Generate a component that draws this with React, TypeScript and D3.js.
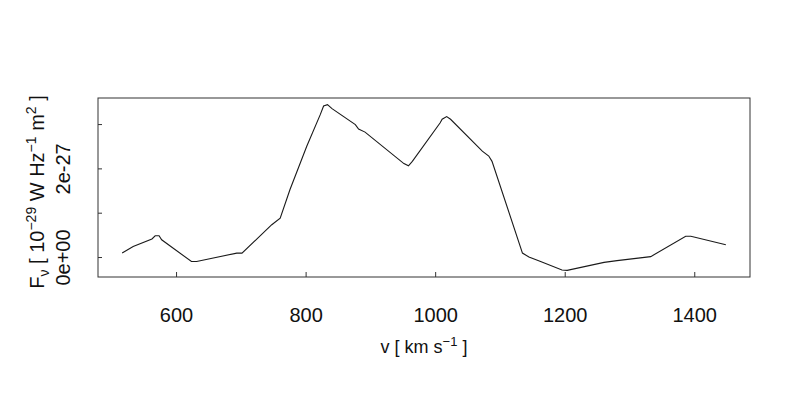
import * as d3 from "d3";

// velocity (km/s) and flux (units of 1e-27)
const velocity = [
  516, 533, 562, 567, 573, 577, 623, 631, 693, 701, 747, 760, 775, 801, 822,
  827, 833, 840, 876, 881, 891, 951, 958, 964, 1007, 1010, 1017, 1023, 1072,
  1082, 1087, 1134, 1144, 1162, 1195, 1203, 1260, 1280, 1332, 1386, 1394, 1448,
];
const flux = [
  0.1, 0.25, 0.42, 0.49, 0.49, 0.4, -0.09, -0.09, 0.1, 0.1, 0.74, 0.89, 1.53,
  2.51, 3.23, 3.42, 3.45, 3.36, 3.0, 2.9, 2.83, 2.12, 2.07, 2.17, 3.04, 3.12,
  3.18, 3.12, 2.4, 2.29, 2.17, 0.1, 0.01, -0.09, -0.28, -0.29, -0.11, -0.07,
  0.02, 0.48, 0.48, 0.29,
];
const xTicks = [600, 800, 1000, 1200, 1400];
const yTicks = [0, 1, 2, 3];
const yTickLabels: Record<number, string> = { 0: "0e+00", 2: "2e-27" };

const W = 800;
const H = 400;
const plot = { left: 98, right: 750, top: 98, bottom: 277 };
const font = "'Liberation Sans', Arial, Helvetica, sans-serif";

// R-style 4% padding around the data range
function padded(vals: number[]): [number, number] {
  const [a, b] = d3.extent(vals) as [number, number];
  const r = b - a;
  return [a - 0.04 * r, b + 0.04 * r];
}

export default function App() {
  const x = d3.scaleLinear().domain(padded(velocity)).range([plot.left, plot.right]);
  const y = d3.scaleLinear().domain(padded(flux)).range([plot.bottom, plot.top]);

  const pts: [number, number][] = velocity.map((v, i) => [v, flux[i]]);
  const line = d3
    .line<[number, number]>()
    .x((d) => x(d[0]))
    .y((d) => y(d[1]));

  const midX = (plot.left + plot.right) / 2;

  return (
    <svg
      width={W}
      height={H}
      style={{ position: "absolute", left: 0, top: 0, background: "#fff" }}
      fontFamily={font}
    >
      <rect x={0} y={0} width={W} height={H} fill="#fff" />
      <path d={line(pts) ?? ""} fill="none" stroke="#1a1a1a" strokeWidth={1.1} />
      <rect
        x={plot.left}
        y={plot.top}
        width={plot.right - plot.left}
        height={plot.bottom - plot.top}
        fill="none"
        stroke="#333"
        strokeWidth={1}
      />

      {/* x axis: inward ticks */}
      {xTicks.map((t) => (
        <g key={t}>
          <line x1={x(t)} x2={x(t)} y1={plot.bottom} y2={plot.bottom - 5} stroke="#333" />
          <text x={x(t)} y={322} textAnchor="middle" fontSize={20} fill="#111">
            {t}
          </text>
        </g>
      ))}

      {/* y axis: inward ticks, rotated labels */}
      {yTicks.map((t) => (
        <g key={t}>
          <line x1={plot.left} x2={plot.left + 4} y1={y(t)} y2={y(t)} stroke="#333" />
          {yTickLabels[t] && (
            <text
              transform={`translate(70,${y(t)}) rotate(-90)`}
              textAnchor="middle"
              fontSize={20}
              fill="#111"
            >
              {yTickLabels[t]}
            </text>
          )}
        </g>
      ))}

      {/* axis titles */}
      <text x={midX} y={353} textAnchor="middle" fontSize={18} fill="#111">
        v [ km s
        <tspan dy={-7} fontSize={13}>−1</tspan>
        <tspan dy={7}> ]</tspan>
      </text>
      <text
        transform="translate(44,192) rotate(-90)"
        textAnchor="middle"
        fontSize={20}
        fill="#111"
      >
        F<tspan dy={5} fontSize={14}>ν</tspan>
        <tspan dy={-5}> [ 10</tspan>
        <tspan dy={-8} fontSize={14}>−29</tspan>
        <tspan dy={8}> W Hz</tspan>
        <tspan dy={-8} fontSize={14}>−1</tspan>
        <tspan dy={8}> m</tspan>
        <tspan dy={-8} fontSize={14}>2</tspan>
        <tspan dy={8}> ]</tspan>
      </text>
    </svg>
  );
}
